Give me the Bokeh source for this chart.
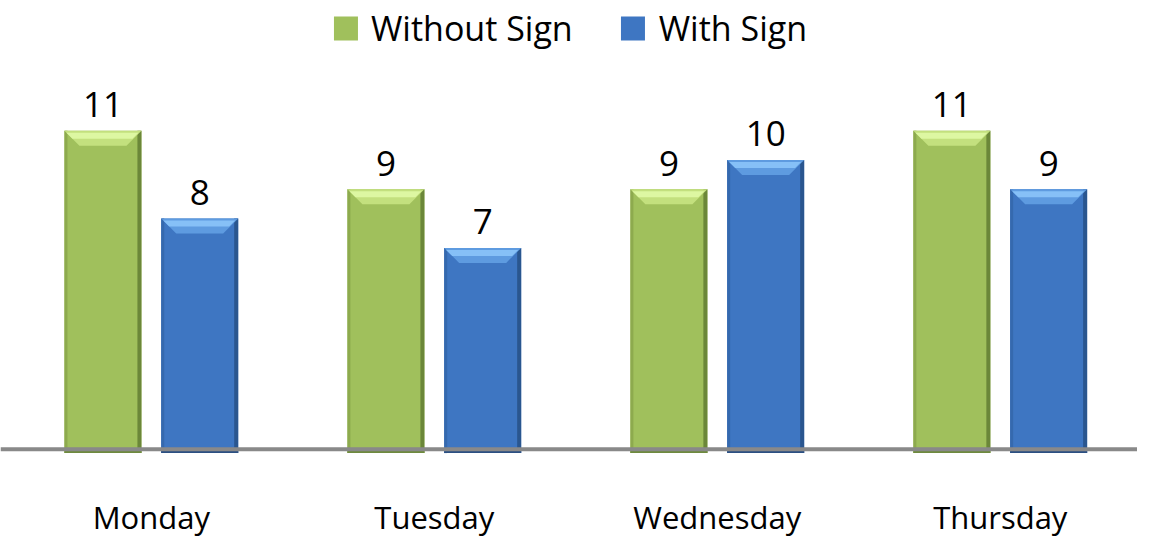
from bokeh.plotting import figure
from bokeh.models import Range1d, Span, Legend, LegendItem, ColumnDataSource
from bokeh.core.properties import value
from bokeh.embed import file_html
from bokeh.resources import INLINE

days = ["Monday", "Tuesday", "Wednesday", "Thursday"]
without_sign = [11, 9, 9, 11]
with_sign = [8, 7, 10, 9]
series_names = ["Without Sign", "With Sign"]

FONT = "Open Sans"
W, H = 1137, 542
p = figure(width=W, height=H, output_backend="svg", toolbar_location=None,
           x_axis_location=None, y_axis_location=None, min_border=0,
           x_range=Range1d(-0.533, 3.485), y_range=Range1d(-3.05, 15.44))
p.outline_line_color = None
p.grid.visible = False
p.background_fill_color = "white"

PX_X = 1 / 283.0
PX_Y = 1 / 29.31
BAR_W = 0.272
OFF = 0.171

styles = [
    dict(face="#A0C05C", top1="#DDF7A2", top2="#C3E07E", left="#8DAA4E", right="#6B8739", bottom="#6E8A3E"),
    dict(face="#3E76C2", top1="#86C0F7", top2="#5E9BE0", left="#3569AE", right="#2A568F", bottom="#2B4F82"),
]

face_renderers = []
for si, (vals, off) in enumerate([(without_sign, -OFF), (with_sign, OFF)]):
    st = styles[si]
    xs = [i + off for i in range(len(days))]
    src = ColumnDataSource(dict(x=xs, top=vals))
    r = p.vbar(x="x", top="top", bottom=0, width=BAR_W, source=src,
               fill_color=st["face"], line_color=None)
    face_renderers.append(r)
    # left / right edges
    p.vbar(x=[x - BAR_W / 2 + 1.5 * PX_X for x in xs], top=vals, bottom=0,
           width=3 * PX_X, fill_color=st["left"], line_color=None)
    p.vbar(x=[x + BAR_W / 2 - 2 * PX_X for x in xs], top=vals, bottom=0,
           width=4 * PX_X, fill_color=st["right"], line_color=None)
    # bottom edge
    p.vbar(x=xs, top=[2 * PX_Y] * len(xs), bottom=0,
           width=BAR_W, fill_color=st["bottom"], line_color=None)
    # top bevel trapezoid
    d = 15 * PX_X
    h = 15 * PX_Y
    txs, tys = [], []
    for x, v in zip(xs, vals):
        l, rr = x - BAR_W / 2, x + BAR_W / 2
        txs.append([l, rr, rr - d, l + d])
        tys.append([v, v, v - h, v - h])
    p.patches(txs, tys, fill_color=st["top2"], line_color=None)
    d2 = 6 * PX_X
    h2 = 6 * PX_Y
    txs2, tys2 = [], []
    for x, v in zip(xs, vals):
        l, rr = x - BAR_W / 2 + 2 * PX_X, x + BAR_W / 2 - 3 * PX_X
        txs2.append([l, rr, rr - d2, l + d2])
        tys2.append([v - 2 * PX_Y, v - 2 * PX_Y, v - 2 * PX_Y - h2, v - 2 * PX_Y - h2])
    p.patches(txs2, tys2, fill_color=st["top1"], line_color=None)
    # value labels
    p.text(x=xs, y=vals, text=[str(v) for v in vals], text_align="center",
           text_baseline="alphabetic", y_offset=-26, text_font=value(FONT),
           text_font_size="35px", text_color="#000000")

# axis line
p.add_layout(Span(location=0.13, dimension="width", line_color="#898989", line_width=4))

# category labels
p.text(x=list(range(len(days))), y=[0] * len(days), text=days, text_align="center",
       text_baseline="alphabetic", y_offset=64, text_font=value(FONT),
       text_font_size="31px", text_color="#000000")

legend = Legend(items=[LegendItem(label=series_names[0], renderers=[face_renderers[0]]),
                       LegendItem(label=series_names[1], renderers=[face_renderers[1]])],
                orientation="horizontal", location="top_center")
legend.border_line_color = None
legend.background_fill_alpha = 0
legend.label_text_font = FONT
legend.label_text_font_size = "34px"
legend.label_text_color = "#000000"
legend.glyph_width = 30
legend.glyph_height = 30
legend.label_standoff = 11
legend.spacing = 45
legend.padding = 0
legend.margin = 5
legend.label_height = 34
p.add_layout(legend)

open("out.html", "w").write(file_html(p, INLINE))
